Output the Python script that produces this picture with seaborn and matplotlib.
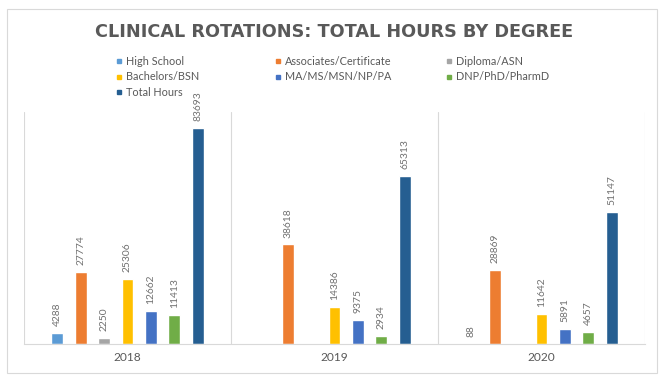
import numpy as np
import pandas as pd
import seaborn as sns
import matplotlib.pyplot as plt
from matplotlib.lines import Line2D
from matplotlib.patches import Rectangle

# Data
years = ["2018", "2019", "2020"]
degrees = ["High School", "Associates/Certificate", "Diploma/ASN", "Bachelors/BSN",
           "MA/MS/MSN/NP/PA", "DNP/PhD/PharmD", "Total Hours"]
high_school = [4288, None, 88]
associates = [27774, 38618, 28869]
diploma = [2250, None, None]
bachelors = [25306, 14386, 11642]
masters = [12662, 9375, 5891]
doctorate = [11413, 2934, 4657]
total_hours = [83693, 65313, 51147]

colors = ["#5B9BD5", "#ED7D31", "#A5A5A5", "#FFC000", "#4472C4", "#70AD47", "#255E91"]
text_gray = "#595959"
label_gray = "#707070"
line_gray = "#D9D9D9"

series = [high_school, associates, diploma, bachelors, masters, doctorate, total_hours]
rows = []
for deg, vals in zip(degrees, series):
    for yr, v in zip(years, vals):
        if v is not None:
            rows.append({"Year": yr, "Degree": deg, "Hours": v})
df = pd.DataFrame(rows)

sns.set_style("white")
plt.rcParams["font.family"] = ["Lato", "DejaVu Sans"]

fig = plt.figure(figsize=(6.69, 3.84), dpi=100)
ax = fig.add_axes([24 / 669, 1 - 344 / 384, 621 / 669, 232 / 384])

sns.barplot(data=df, x="Year", y="Hours", hue="Degree", order=years, hue_order=degrees,
            palette=colors, width=0.79, gap=0.49, saturation=1, errorbar=None,
            legend=False, ax=ax)

for c in ax.containers:
    ax.bar_label(c, fmt="%d", rotation=90, padding=5, fontsize=7.4, color=label_gray)

ax.set_ylim(0, 90000)
ax.set_xlim(-0.5, 2.5)
for xv in [-0.5, 0.5, 1.5, 2.5]:
    ax.axvline(xv, color=line_gray, lw=0.8, zorder=0)
for s in ["top", "left", "right"]:
    ax.spines[s].set_visible(False)
ax.spines["bottom"].set_color(line_gray)
ax.spines["bottom"].set_linewidth(0.8)
ax.set_yticks([])
ax.set_xlabel("")
ax.set_ylabel("")
ax.tick_params(axis="x", length=0, pad=6, labelsize=8.6, colors=text_gray)

# title
fig.text(334 / 669, 1 - 32 / 384, "CLINICAL ROTATIONS: TOTAL HOURS BY DEGREE",
         ha="center", va="center", fontsize=12.7, fontweight="bold", color=text_gray,
         family="DejaVu Sans")

# legend in three columns
def make_handles(idx):
    return [Line2D([], [], marker="s", ls="", markersize=3.2, color=colors[i]) for i in idx]

cols = [([0, 3, 6], 116), ([1, 4], 275), ([2, 5], 446)]
for idx, xpix in cols:
    fig.legend(make_handles(idx), [degrees[i] for i in idx], loc="upper left",
               bbox_to_anchor=(xpix / 669, 1 - 56 / 384), frameon=False,
               fontsize=7.8, handlelength=0.6, handletextpad=0.3, labelspacing=0.4,
               borderaxespad=0, borderpad=0, labelcolor=text_gray)

# outer chart border
fig.patches.append(Rectangle((7 / 669, 1 - 373 / 384), 650 / 669, 364 / 384,
                             transform=fig.transFigure, fill=False, ec=line_gray, lw=0.8))

fig.savefig("out.png", dpi=100)
